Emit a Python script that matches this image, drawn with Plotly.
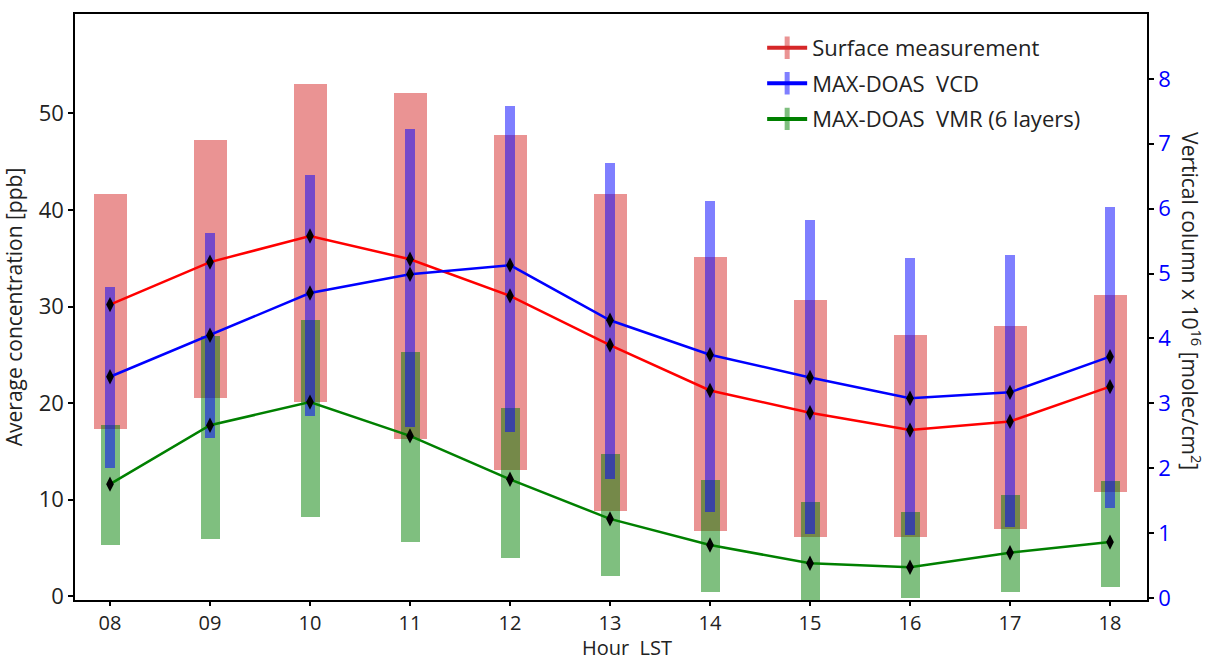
import plotly.graph_objects as go

hours = [8, 9, 10, 11, 12, 13, 14, 15, 16, 17, 18]
hour_labels = ["08", "09", "10", "11", "12", "13", "14", "15", "16", "17", "18"]

# Surface measurement [ppb] (left axis)
surf_mean = [30.2, 34.6, 37.3, 34.9, 31.1, 26.0, 21.3, 19.0, 17.2, 18.1, 21.7]
surf_low = [17.3, 20.5, 20.1, 16.3, 13.1, 8.8, 6.7, 6.1, 6.1, 7.0, 10.8]
surf_high = [41.7, 47.3, 53.0, 52.1, 47.8, 41.7, 35.1, 30.7, 27.0, 28.0, 31.2]

# MAX-DOAS VCD [x1e16 molec/cm2] (right axis)
vcd_mean = [3.41, 4.05, 4.70, 4.99, 5.13, 4.28, 3.75, 3.40, 3.08, 3.17, 3.72]
vcd_low = [2.01, 2.46, 2.80, 2.63, 2.56, 1.83, 1.32, 0.98, 0.97, 1.09, 1.39]
vcd_high = [4.79, 5.63, 6.52, 7.23, 7.59, 6.70, 6.12, 5.82, 5.24, 5.28, 6.03]

# MAX-DOAS VMR (6 layers) [ppb] (left axis)
vmr_mean = [11.6, 17.7, 20.1, 16.6, 12.1, 8.0, 5.3, 3.4, 3.0, 4.5, 5.6]
vmr_low = [5.3, 5.9, 8.2, 5.6, 4.0, 2.1, 0.4, -0.6, -0.2, 0.4, 0.9]
vmr_high = [17.7, 26.9, 28.6, 25.3, 19.5, 14.7, 12.0, 9.7, 8.7, 10.5, 11.9]

FONT = "Open Sans"
RED_BAR = "rgba(214,39,40,0.5)"
BLUE_BAR = "rgba(0,0,255,0.5)"
GREEN_BAR = "rgba(0,128,0,0.5)"

fig = go.Figure()

# bars
fig.add_trace(go.Bar(x=hours, y=[h - l for h, l in zip(surf_high, surf_low)], base=surf_low,
                     width=0.33, marker=dict(color=RED_BAR, line=dict(width=0)),
                     yaxis="y", showlegend=False, hoverinfo="skip"))
fig.add_trace(go.Bar(x=hours, y=[h - l for h, l in zip(vmr_high, vmr_low)], base=vmr_low,
                     width=0.19, marker=dict(color=GREEN_BAR, line=dict(width=0)),
                     yaxis="y", showlegend=False, hoverinfo="skip"))
fig.add_trace(go.Bar(x=hours, y=[h - l for h, l in zip(vcd_high, vcd_low)], base=vcd_low,
                     width=0.10, marker=dict(color=BLUE_BAR, line=dict(width=0)),
                     yaxis="y2", showlegend=False, hoverinfo="skip"))

# lines
mk = dict(symbol="diamond-tall", size=11, color="black")
fig.add_trace(go.Scatter(x=hours, y=vcd_mean, mode="lines+markers", yaxis="y4",
                         line=dict(color="blue", width=2.5), marker=mk, showlegend=False))
fig.add_trace(go.Scatter(x=hours, y=vmr_mean, mode="lines+markers", yaxis="y3",
                         line=dict(color="green", width=2.5), marker=mk, showlegend=False))
fig.add_trace(go.Scatter(x=hours, y=surf_mean, mode="lines+markers", yaxis="y3",
                         line=dict(color="red", width=2.5), marker=mk, showlegend=False))

# legend entries
for name, lc, bc in [("Surface measurement", "#d62728", "rgba(214,39,40,0.5)"),
                     ("MAX-DOAS  VCD", "blue", BLUE_BAR),
                     ("MAX-DOAS  VMR (6 layers)", "green", GREEN_BAR)]:
    fig.add_trace(go.Scatter(x=[None], y=[None], mode="lines+markers", name=name,
                             legendgroup=name,
                             line=dict(color=lc, width=4),
                             marker=dict(symbol="line-ns", size=20, line=dict(color=bc, width=9))))

axis_common = dict(showline=True, linecolor="black", linewidth=1.5, ticks="outside",
                   tickwidth=1.5, tickcolor="black", showgrid=False, zeroline=False)

fig.update_layout(
    width=1212, height=662,
    margin=dict(l=73, r=65, t=12, b=62),
    paper_bgcolor="white", plot_bgcolor="white",
    barmode="overlay", bargap=0,
    font=dict(family=FONT, size=22, color="#222222"),
    xaxis=dict(range=[7.65, 18.37], tickvals=hours, ticktext=hour_labels, mirror=True,
               tickfont=dict(size=20), ticklen=4, **axis_common),
    yaxis=dict(range=[-0.4, 60.3], tickvals=[0, 10, 20, 30, 40, 50], mirror=True,
               ticklen=5,
               title=dict(text="Average concentration [ppb]", standoff=12,
                          font=dict(size=21)),
               **axis_common),
    yaxis2=dict(range=[-0.03, 9.0], tickvals=list(range(9)), overlaying="y", side="right",
                ticklen=5, tickfont=dict(color="blue"), **axis_common),
    yaxis3=dict(range=[-0.4, 60.3], overlaying="y", visible=False),
    yaxis4=dict(range=[-0.03, 9.0], overlaying="y", side="right", visible=False),
    legend=dict(x=0.641, y=0.978, xanchor="left", yanchor="top", bgcolor="rgba(0,0,0,0)",
                font=dict(size=22, color="#222222"), tracegroupgap=4, itemwidth=40),
    annotations=[
        dict(text="Hour  LST", xref="paper", yref="paper", x=0.515, y=-0.1075,
             xanchor="center", yanchor="bottom", showarrow=False, font=dict(size=20)),
        dict(text="Vertical column x 10<sup>16</sup> [molec/cm<sup>2</sup>]", xref="paper",
             yref="paper", x=1.042, y=0.51, xanchor="center", yanchor="middle",
             textangle=90, showarrow=False, font=dict(size=21)),
    ],
)

fig.write_html("out.html")
